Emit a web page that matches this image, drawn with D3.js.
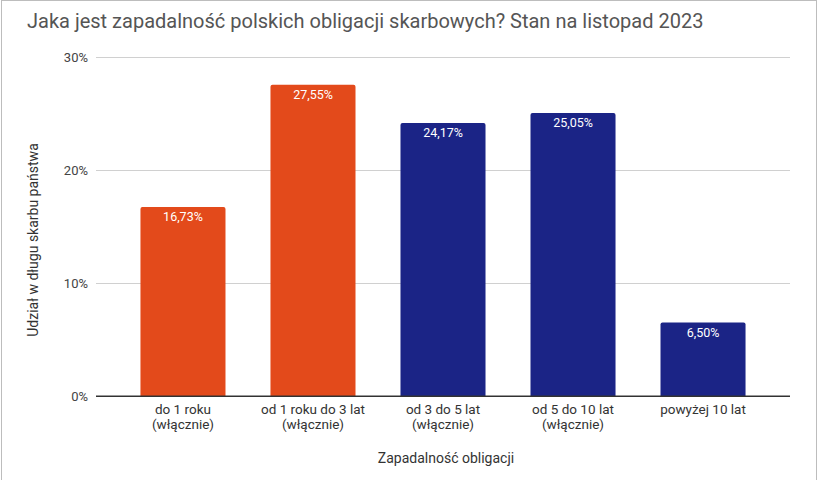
<!DOCTYPE html>
<html>
<head>
<meta charset="utf-8">
<script src="https://cdn.jsdelivr.net/npm/d3@7"></script>
<style>
  body { margin: 0; background: #fff; }
  text { font-family: Roboto, "Noto Sans", sans-serif; }
</style>
</head>
<body>
<div id="chart"></div>
<script>
"use strict";
var categories = [
  ['do 1 roku', '(włącznie)'],
  ['od 1 roku do 3 lat', '(włącznie)'],
  ['od 3 do 5 lat', '(włącznie)'],
  ['od 5 do 10 lat', '(włącznie)'],
  ['powyżej 10 lat']
];
var values = [16.73, 27.55, 24.17, 25.05, 6.50];
var barColors = ['#e34a1b', '#e34a1b', '#1b2486', '#1b2486', '#1b2486'];
var yTicks = [0, 10, 20, 30];

var width = 818, height = 480;
var margin = { top: 57, right: 28, bottom: 84, left: 96 };
var innerW = width - margin.left - margin.right;
var innerH = height - margin.top - margin.bottom;

var svg = d3.select('#chart').append('svg')
    .attr('width', width)
    .attr('height', height);

svg.append('rect')
    .attr('x', 1.5).attr('y', 0.5)
    .attr('width', width - 3).attr('height', height + 2)
    .attr('fill', 'none')
    .attr('stroke', '#bdbdbd');

svg.append('text')
    .attr('x', 27).attr('y', 28)
    .attr('font-size', 20)
    .attr('fill', '#555')
    .text('Jaka jest zapadalność polskich obligacji skarbowych? Stan na listopad 2023');

var g = svg.append('g')
    .attr('transform', 'translate(' + margin.left + ',' + margin.top + ')');

var x = d3.scaleBand()
    .domain(d3.range(values.length))
    .range([0, innerW])
    .paddingInner(0.346)
    .paddingOuter(0.342);

var y = d3.scaleLinear()
    .domain([0, 30])
    .range([innerH, 0]);

// gridlines + tick labels
var yAxis = d3.axisLeft(y)
    .tickValues(yTicks)
    .tickSize(-innerW)
    .tickPadding(8)
    .tickFormat(function (d) { return d + '%'; });
var ya = g.append('g').call(yAxis);
ya.select('.domain').remove();
ya.selectAll('line')
    .attr('stroke', function (d) { return d === 0 ? '#333' : '#d0d0d0'; });
ya.selectAll('text')
    .attr('font-size', 13)
    .attr('fill', '#444')
    .attr('font-family', 'Roboto, sans-serif');

g.selectAll('.bar')
    .data(values)
    .enter().append('path')
    .classed('bar', true)
    .attr('fill', function (d, i) { return barColors[i]; })
    .attr('d', function (d, i) {
        var x0 = x(i), w = x.bandwidth(), y0 = y(d), y1 = y(0), r = 2;
        return 'M' + x0 + ',' + y1 + 'V' + (y0 + r) +
            'Q' + x0 + ',' + y0 + ' ' + (x0 + r) + ',' + y0 +
            'H' + (x0 + w - r) +
            'Q' + (x0 + w) + ',' + y0 + ' ' + (x0 + w) + ',' + (y0 + r) +
            'V' + y1 + 'Z';
    });

// redraw baseline on top of bars
g.append('line')
    .attr('x1', 0).attr('x2', innerW)
    .attr('y1', y(0)).attr('y2', y(0))
    .attr('stroke', '#333');

g.selectAll('.val')
    .data(values)
    .enter().append('text')
    .classed('val', true)
    .attr('x', function (d, i) { return x(i) + x.bandwidth() / 2; })
    .attr('y', function (d) { return y(d) + 14.5; })
    .attr('text-anchor', 'middle')
    .attr('font-size', 12.5)
    .attr('fill', '#fff')
    .text(function (d) { return d.toFixed(2).replace('.', ',') + '%'; });

var xl = g.selectAll('.xlab')
    .data(categories)
    .enter().append('text')
    .classed('xlab', true)
    .attr('text-anchor', 'middle')
    .attr('font-size', 13.5)
    .attr('fill', '#333')
    .attr('transform', function (d, i) {
        return 'translate(' + (x(i) + x.bandwidth() / 2) + ',' + (innerH + 18) + ')';
    });
xl.selectAll('tspan')
    .data(function (d) { return d; })
    .enter().append('tspan')
    .attr('x', 0)
    .attr('dy', function (d, i) { return i === 0 ? 0 : 15; })
    .text(function (d) { return d; });

g.append('text')
    .attr('x', innerW / 2 + 3)
    .attr('y', innerH + 67)
    .attr('text-anchor', 'middle')
    .attr('font-size', 14)
    .attr('fill', '#333')
    .text('Zapadalność obligacji');

g.append('text')
    .attr('transform', 'translate(' + (38 - margin.left) + ',' + (240 - margin.top) + ') rotate(-90)')
    .attr('text-anchor', 'middle')
    .attr('font-size', 14)
    .attr('fill', '#333')
    .text('Udział w długu skarbu państwa');
</script>
</body>
</html>
